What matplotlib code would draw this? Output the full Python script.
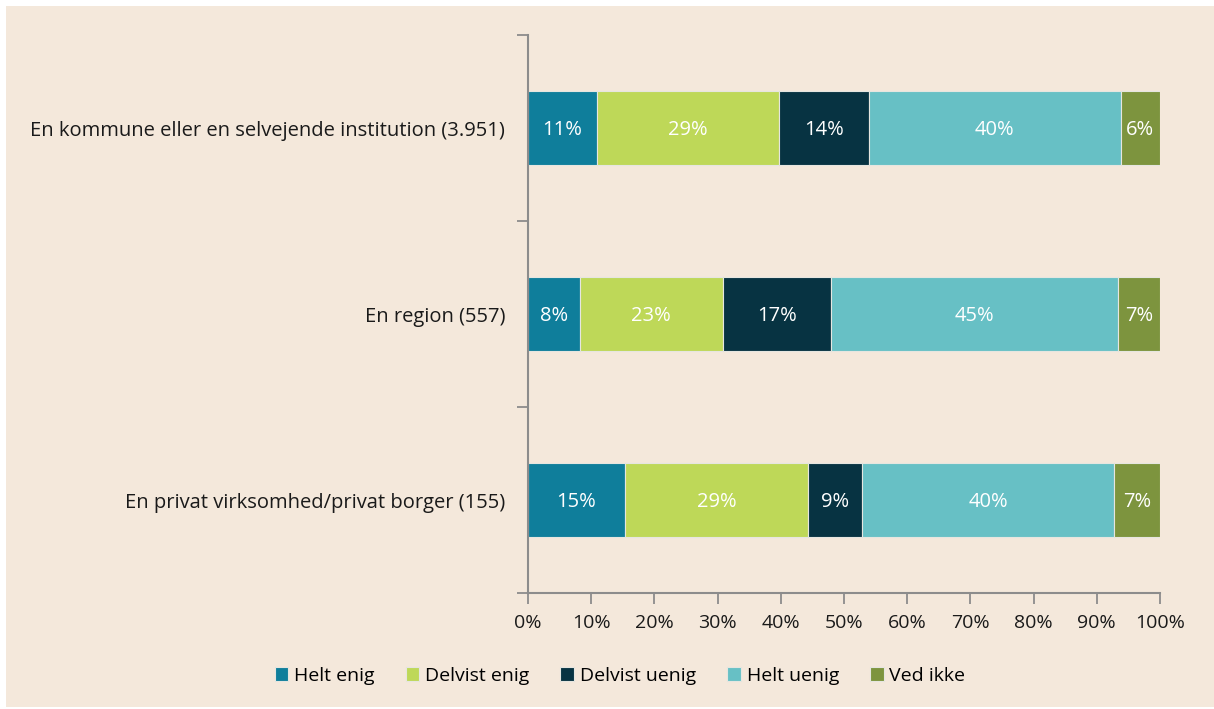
import numpy as np
import matplotlib.pyplot as plt
from matplotlib.patches import Rectangle

# Categories (top to bottom) and series shares in percent
categories = ["En kommune eller en selvejende institution (3.951)",
              "En region (557)",
              "En privat virksomhed/privat borger (155)"]
series = ["Helt enig", "Delvist enig", "Delvist uenig", "Helt uenig", "Ved ikke"]
helt_enig = [10.9, 8.2, 15.3]
delvist_enig = [28.8, 22.6, 29.0]
delvist_uenig = [14.2, 17.2, 8.6]
helt_uenig = [39.9, 45.3, 39.8]
ved_ikke = [6.2, 6.7, 7.3]
x_ticks = np.arange(0, 101, 10)

colors = ["#0F7E9B", "#BED858", "#073342", "#67C0C5", "#7D943E"]
bg = "#F4E8DB"

plt.rcParams['font.family'] = ['Open Sans', 'DejaVu Sans']

fig = plt.figure(figsize=(12.14, 7.09), dpi=100)
fig.patch.set_facecolor("white")
fig.patches.append(Rectangle((6 / 1214, 2 / 709), 1, 1 - 8 / 709,
                             transform=fig.transFigure, facecolor=bg,
                             edgecolor="none", zorder=-10))

ax = fig.add_axes([528 / 1214, 1 - 593 / 709, 632 / 1214, 558 / 709])
ax.set_facecolor("none")

data = [helt_enig, delvist_enig, delvist_uenig, helt_uenig, ved_ikke]
y = np.arange(len(categories))
left = np.zeros(len(categories))
for name, vals, c in zip(series, data, colors):
    vals = np.array(vals)
    ax.barh(y, vals, left=left, height=0.4, color=c, label=name,
            edgecolor="#E6E6E0", linewidth=0.8)
    for yi, l, v in zip(y, left, vals):
        ax.text(l + v / 2, yi + 0.01, f"{round(v):.0f}%", ha="center", va="center",
                color="white", fontsize=14.5)
    left += vals

ax.set_xlim(0, 100)
ax.set_ylim(2.5, -0.5)
ax.set_xticks(x_ticks)
ax.set_xticklabels([f"{t}%" for t in x_ticks], fontsize=14, color="#1a1a1a")
ax.set_yticks([-0.5, 0.5, 1.5, 2.5])
ax.set_yticklabels([])
ax.set_yticks(y, minor=True)
ax.set_yticklabels(categories, minor=True, fontsize=14.5, color="#1a1a1a")
ax.tick_params(axis="y", which="minor", length=0, pad=16.5)
ax.tick_params(axis="y", which="major", length=8, width=1.3, color="#8c8c8c")
ax.tick_params(axis="x", length=8, width=1.3, color="#8c8c8c", pad=7)

for s in ["top", "right"]:
    ax.spines[s].set_visible(False)
for s in ["left", "bottom"]:
    ax.spines[s].set_color("#8c8c8c")
    ax.spines[s].set_linewidth(1.5)

fig.legend(loc="center", bbox_to_anchor=(620 / 1214, 1 - 676 / 709), ncol=5,
           frameon=False, fontsize=14, handlelength=0.7, handleheight=0.7,
           handletextpad=0.3, columnspacing=1.6)

fig.savefig("out.png", dpi=100, facecolor=fig.get_facecolor())
